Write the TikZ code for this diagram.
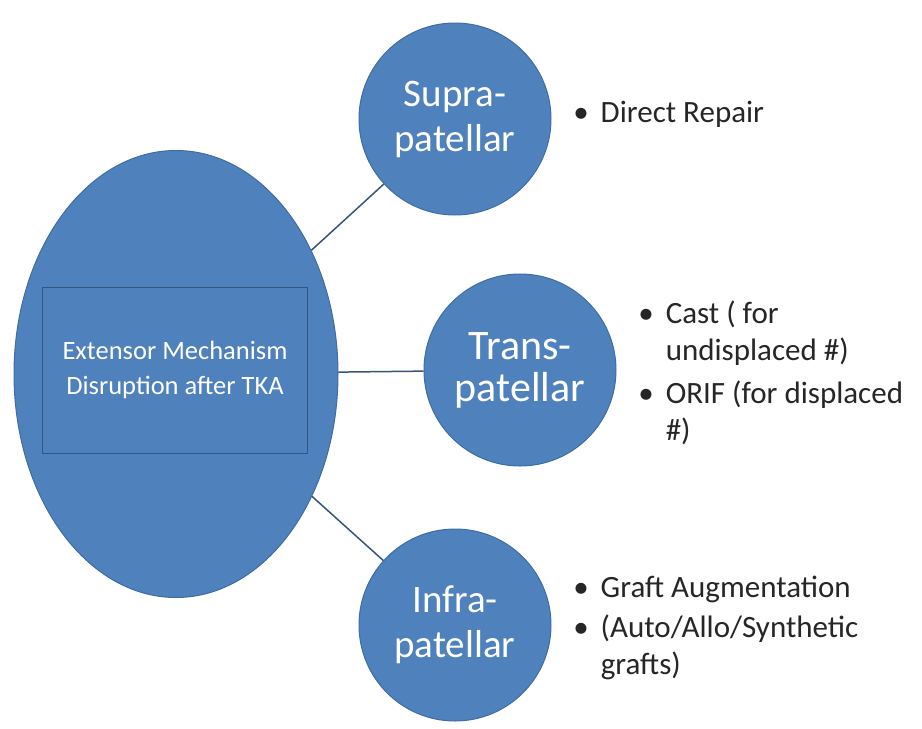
\documentclass[tikz,border=0pt]{standalone}
\usepackage{fontspec}
\setmainfont{Carlito}
\usetikzlibrary{shapes.geometric}
\definecolor{blue1}{RGB}{79, 129, 189}
\definecolor{blue2}{RGB}{64, 108, 163}
\definecolor{line1}{RGB}{55, 85, 120}
\newcommand{\bul}{\makebox[0pt][r]{\textbullet\hspace{12pt}}}

\begin{document}
\begin{tikzpicture}[x=1pt, y=-1pt, line width=1.5pt,
  zone/.style={circle, fill=blue1, draw=blue2, line width=1pt, minimum size=192pt, inner sep=0pt,
    text=white, align=center, font=\fontsize{39}{45}\selectfont},
  item/.style={anchor=base west, inner sep=0pt, align=left, text=black!85,
    font=\fontsize{31}{37}\selectfont}]
  \useasboundingbox (0,0) rectangle (922,729);
  \node[ellipse, fill=blue1, draw=blue2, line width=1pt, minimum width=324pt, minimum height=447pt, inner sep=0pt] (ext) at (176,374) {};
  \node[draw=blue2!80!black, line width=1pt, minimum width=265pt, minimum height=166pt, text=white,
    align=center, font=\fontsize{26.5}{35}\selectfont] (title) at (175,370) {Extensor Mechanism\\Disruption after TKA};
  \node[zone] (supra) at (455,119) {Supra-\\patellar};
  \node[zone, font=\fontsize{42}{42}\selectfont] (trans) at (520,370) {Trans-\\patellar};
  \node[zone] (infra) at (455,625) {Infra-\\patellar};
  \foreach \to in {supra, trans, infra}
   \draw[line1] (ext) -- (\to);
  % treatment lists (base = last line)
  \node[item] (s1) at (600,122) {\bul Direct Repair};
  \node[item] (t1) at (665,360) {\bul Cast ( for\\undisplaced \#)};
  \node[item] (t2) at (665,440) {\bul ORIF (for displaced\\\#)};
  \node[item] (i1) at (600,597) {\bul Graft Augmentation};
  \node[item] (i2) at (600,674) {\bul (Auto/Allo/Synthetic\\grafts)};
\end{tikzpicture}
\end{document}
